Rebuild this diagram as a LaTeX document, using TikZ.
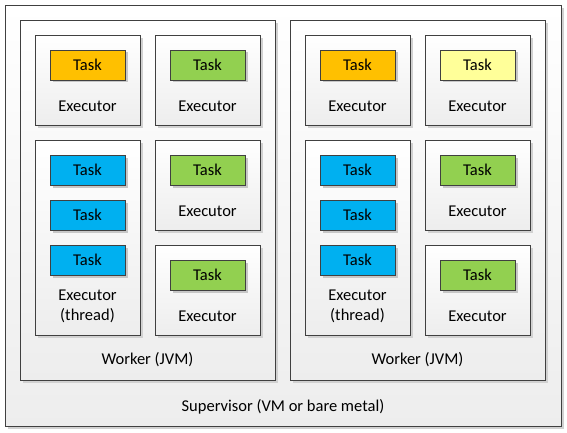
\documentclass[tikz,border=0pt]{standalone}
\usepackage{fontspec}
\setmainfont{Carlito}
\usetikzlibrary{shadows}

\definecolor{boxline}{HTML}{404040}
\definecolor{taskorange}{HTML}{FFC000}
\definecolor{taskgreen}{HTML}{92D050}
\definecolor{taskblue}{HTML}{00B0F0}
\definecolor{taskyellow}{HTML}{FFFF99}

\tikzset{
  box/.style={draw=boxline,line width=0.9pt,rectangle,inner sep=0pt,
    top color=white,bottom color=black!7,
    drop shadow={shadow xshift=3pt,shadow yshift=-3pt,fill=black!18,opacity=1}},
  taskbox/.style={draw=boxline,line width=0.9pt,rectangle,inner sep=0pt,
    minimum width=75pt,minimum height=30pt,fill=#1,
    drop shadow={shadow xshift=2.5pt,shadow yshift=-2.5pt,fill=black!22,opacity=1}},
  execbox/.style={box,minimum width=105pt,minimum height=90pt},
  tallbox/.style={box,minimum width=105pt,minimum height=195pt},
  txt/.style={inner sep=0pt,font=\fontsize{16.5}{20}\selectfont,align=center},
}

\begin{document}
\begin{tikzpicture}[x=1pt,y=-1pt]
\useasboundingbox (0,0) rectangle (567,433);
%%
\node (supervisor) at (283,215.5) [box,minimum width=556pt,minimum height=421pt] {};
  \node (worker_1) at (147.5,200) [box,minimum width=255pt,minimum height=360pt] {};
  \node (worker_2) at (417.5,200) [box,minimum width=255pt,minimum height=360pt] {};
%% worker 1
\node (exec_1) at (87.5,80) [execbox] {};
  \node (exec_2) at (207.5,80) [execbox] {};
  \node (exec_3) at (87.5,237.5) [tallbox] {};
  \node (exec_4) at (207.5,185) [execbox] {};
  \node (exec_5) at (207.5,290) [execbox] {};
  \node (task_1) at (87.5,65) [taskbox=taskorange] {};
  \node (task_2) at (207.5,65) [taskbox=taskgreen] {};
  \node (task_3) at (87.5,170) [taskbox=taskblue] {};
  \node (task_4) at (87.5,215) [taskbox=taskblue] {};
  \node (task_5) at (87.5,260) [taskbox=taskblue] {};
  \node (task_6) at (207.5,170) [taskbox=taskgreen] {};
  \node (task_7) at (207.5,275) [taskbox=taskgreen] {};
%% worker 2
\node (exec_6) at (357.5,80) [execbox] {};
  \node (exec_7) at (477.5,80) [execbox] {};
  \node (exec_8) at (357.5,237.5) [tallbox] {};
  \node (exec_9) at (477.5,185) [execbox] {};
  \node (exec_10) at (477.5,290) [execbox] {};
  \node (task_8) at (357.5,65) [taskbox=taskorange] {};
  \node (task_9) at (477.5,65) [taskbox=taskyellow] {};
  \node (task_10) at (357.5,170) [taskbox=taskblue] {};
  \node (task_11) at (357.5,215) [taskbox=taskblue] {};
  \node (task_12) at (357.5,260) [taskbox=taskblue] {};
  \node (task_13) at (477.5,170) [taskbox=taskgreen] {};
  \node (task_14) at (477.5,275) [taskbox=taskgreen] {};
%% texts
\foreach \t in {1,...,14} {\node[txt] at (task_\t) {Task};}
\node (label_1) at (87.5,106) [txt] {Executor};
  \node (label_2) at (207.5,106) [txt] {Executor};
  \node (label_3) at (87.5,306) [txt] {Executor\\(thread)};
  \node (label_4) at (207.5,211) [txt] {Executor};
  \node (label_5) at (207.5,316) [txt] {Executor};
  \node (label_6) at (357.5,106) [txt] {Executor};
  \node (label_7) at (477.5,106) [txt] {Executor};
  \node (label_8) at (357.5,306) [txt] {Executor\\(thread)};
  \node (label_9) at (477.5,211) [txt] {Executor};
  \node (label_10) at (477.5,316) [txt] {Executor};
  \node (label_w1) at (147.5,360) [txt] {Worker (JVM)};
  \node (label_w2) at (417.5,360) [txt] {Worker (JVM)};
  \node (label_s) at (283,407) [txt] {Supervisor (VM or bare metal)};
%
\end{tikzpicture}
\end{document}
